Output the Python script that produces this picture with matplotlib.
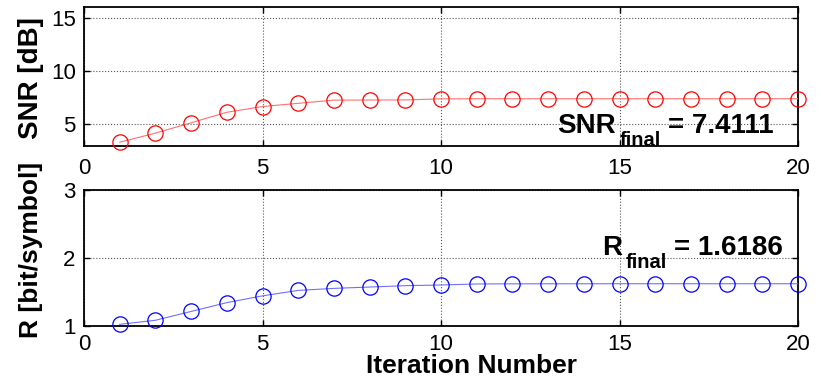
import matplotlib
matplotlib.use("Agg")
import matplotlib.pyplot as plt
from matplotlib.transforms import offset_copy

plt.rcParams['font.family'] = ['Liberation Sans', 'DejaVu Sans']

# Per-iteration results of the optimisation loop
iterations = list(range(1, 21))
snr_db = [3.33, 4.18, 5.15, 6.14, 6.68, 6.98, 7.28, 7.29, 7.30, 7.40,
          7.41, 7.41, 7.41, 7.41, 7.41, 7.41, 7.41, 7.41, 7.41, 7.4111]
rate = [1.02, 1.08, 1.21, 1.34, 1.44, 1.52, 1.55, 1.57, 1.59, 1.60,
        1.615, 1.617, 1.618, 1.618, 1.6186, 1.6186, 1.6186, 1.6186, 1.6186, 1.6186]

snr_final = 7.4111
rate_final = 1.6186

x_ticks = [0, 5, 10, 15, 20]
snr_ticks = [5, 10, 15]
rate_ticks = [1, 2, 3]

W, H = 821, 378
fig = plt.figure(figsize=(W / 100, H / 100), dpi=100)

def px_axes(left, top, right, bottom):
    return fig.add_axes([left / W, 1 - bottom / H, (right - left) / W, (bottom - top) / H])

ax1 = px_axes(84, 7.3, 798, 145.7)
ax2 = px_axes(84, 190, 798, 325.7)

def style(ax, yticks, ylim, xpad):
    ax.set_xlim(0, 20)
    ax.set_ylim(*ylim)
    ax.set_xticks(x_ticks)
    ax.set_yticks(yticks)
    ax.tick_params(direction='in', length=4, width=1, top=True, right=True,
                   labelsize=16, colors='black')
    ax.tick_params(axis='x', pad=xpad)
    ax.tick_params(axis='y', pad=6)
    ax.grid(True, linestyle=':', color='#555555', linewidth=0.8)
    for s in ax.spines.values():
        s.set_linewidth(1.3)
        s.set_color('black')

ax1.plot(iterations, snr_db, '-', color='#ff7070', linewidth=0.8, zorder=3)
ax1.plot(iterations, snr_db, 'o', markerfacecolor='none', markeredgecolor='#ff0000',
         markersize=11, markeredgewidth=0.9, linestyle='none', zorder=4, clip_on=False)
style(ax1, snr_ticks, (3, 16), 9)

ax2.plot(iterations, rate, '-', color='#7070ff', linewidth=0.8, zorder=3)
ax2.plot(iterations, rate, 'o', markerfacecolor='none', markeredgecolor='#0000ff',
         markersize=11, markeredgewidth=0.9, linestyle='none', zorder=4, clip_on=False)
style(ax2, rate_ticks, (1, 3), 6)


def subscript_label(ax, x, y, name, value):
    """Bold 'name_final = value' label, with the subscript set lower and smaller."""
    renderer = fig.canvas.get_renderer()
    t1 = ax.text(x, y, name, fontsize=20, fontweight='bold', ha='left', va='baseline')
    w1 = t1.get_window_extent(renderer).width * 72 / fig.dpi
    tr2 = offset_copy(ax.transData, fig=fig, x=w1 + 3, y=-9.5, units='points')
    t2 = ax.text(x, y, 'final', fontsize=14.5, fontweight='bold', ha='left',
                 va='baseline', transform=tr2)
    w2 = t2.get_window_extent(renderer).width * 72 / fig.dpi
    tr3 = offset_copy(ax.transData, fig=fig, x=w1 + w2 + 8, y=0, units='points')
    ax.text(x, y, '= %.4f' % value, fontsize=20, fontweight='bold', ha='left',
            va='baseline', transform=tr3)


subscript_label(ax1, 13.24, 4.18, 'SNR', snr_final)
subscript_label(ax2, 14.5, 2.04, 'R', rate_final)

fig.text(31.5 / W, 1 - 78 / H, 'SNR [dB]', rotation=90, ha='center', va='center',
         fontsize=20, fontweight='bold')
fig.text(31 / W, 1 - 250 / H, 'R [bit/symbol]', rotation=90, ha='center', va='center',
         fontsize=19, fontweight='bold')
fig.text(471 / W, 1 - 373 / H, 'Iteration Number', ha='center', va='baseline',
         fontsize=19, fontweight='bold')

fig.savefig('out.png', dpi=100)
